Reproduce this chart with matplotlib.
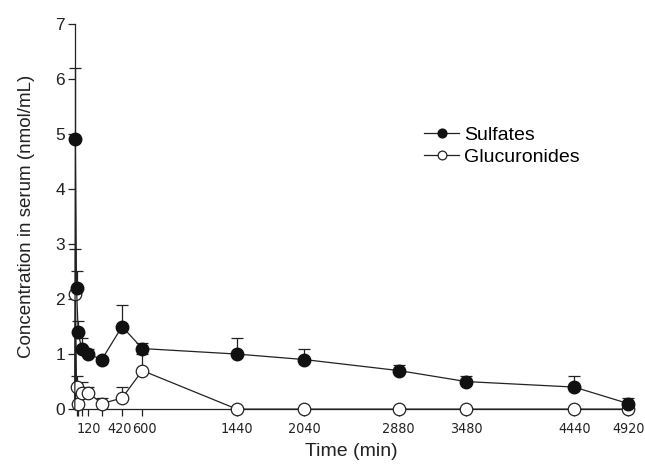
import matplotlib
matplotlib.use('Agg')
import matplotlib.pyplot as plt
import matplotlib.transforms as mtransforms
from matplotlib import font_manager
import numpy as np

plt.rcParams['font.family'] = ['Liberation Sans', 'DejaVu Sans']

# sampling times (min); 0 is the pre-dose point
time = [0, 5, 15, 30, 60, 120, 240, 420, 600, 1440, 2040, 2880, 3480, 4440, 4920]

sulfates = [0, 4.9, 2.2, 1.4, 1.1, 1.0, 0.9, 1.5, 1.1, 1.0, 0.9, 0.7, 0.5, 0.4, 0.1]
sulfates_err = [0, 1.3, 0.3, 0.2, 0.2, 0.1, 0.05, 0.4, 0.1, 0.3, 0.2, 0.1, 0.1, 0.2, 0.1]

glucuronides = [0, 2.1, 0.4, 0.1, 0.3, 0.3, 0.1, 0.2, 0.7, 0, 0, 0, 0, 0, 0]
glucuronides_err = [0, 0.8, 0.2, 0.0, 0.2, 0.1, 0.1, 0.2, 0.3, 0, 0, 0, 0, 0, 0]

xticks = [15, 30, 60, 120, 240, 420, 600, 1440, 2040, 2880, 3480, 4440, 4920]
xtick_labels = ['', '', '', '120', '', '420', '600', '1440', '2040', '2880', '3480', '4440', '4920']

# condensed face for the x tick labels if one is installed
condensed = [f for f in font_manager.fontManager.ttflist
             if f.stretch in ('condensed', 'semi-condensed', 'extra-condensed', 500, 300, 400)
             and f.style == 'normal' and f.weight in (400, 'normal', 'regular')]
if condensed:
    xfont = dict(family=condensed[0].name, stretch=condensed[0].stretch, fontsize=10.3)
else:
    xfont = dict(family='Liberation Sans', fontsize=9.5)

fig = plt.figure(figsize=(6.45, 4.67), dpi=100)
ax = fig.add_axes([0.116, 0.124, 0.858, 0.825])

# upper-only error bars
zeros = np.zeros(len(time))
ax.errorbar(time[1:], sulfates[1:], yerr=[zeros[1:], sulfates_err[1:]], fmt='none',
            ecolor='#222222', elinewidth=0.9, capsize=4.3, capthick=0.9, clip_on=False)
ax.errorbar(time[1:], glucuronides[1:], yerr=[zeros[1:], glucuronides_err[1:]], fmt='none',
            ecolor='#222222', elinewidth=0.9, capsize=4.3, capthick=0.9, clip_on=False)

ax.plot(time, glucuronides, '-o', color='#222222', mfc='white', mec='#222222', mew=0.9,
        ms=9, lw=0.9, markevery=list(range(1, len(time))), clip_on=False,
        label='Glucuronides', zorder=3)
ax.plot(time, sulfates, '-o', color='#222222', mfc='#111111', mec='#111111',
        ms=9, lw=0.9, markevery=list(range(1, len(time))), clip_on=False,
        label='Sulfates', zorder=4)

ax.set_xlim(0, 4920)
ax.set_ylim(0, 7)
ax.set_xticks(xticks)
ax.set_xticklabels(xtick_labels, **xfont)
ax.set_yticks(range(0, 8))
ax.tick_params(axis='both', direction='out', length=5, width=0.9, colors='#222222')
ax.tick_params(axis='y', labelsize=12.5, pad=2)
ax.tick_params(axis='x', pad=4)

# nudge the crowded 420 / 600 labels apart a little
for lab in ax.get_xticklabels():
    if lab.get_text() == '420':
        lab.set_transform(lab.get_transform() + mtransforms.ScaledTranslation(-2.5/100, 0, fig.dpi_scale_trans))
    elif lab.get_text() == '600':
        lab.set_transform(lab.get_transform() + mtransforms.ScaledTranslation(2.5/100, 0, fig.dpi_scale_trans))

for s in ['top', 'right']:
    ax.spines[s].set_visible(False)
for s in ['left', 'bottom']:
    ax.spines[s].set_linewidth(0.9)
    ax.spines[s].set_color('#222222')

ax.set_xlabel('Time (min)', fontsize=14, color='#222222', labelpad=5)
ax.set_ylabel('Concentration in serum (nmol/mL)', fontsize=13.5, color='#222222', labelpad=15)

handles, labels = ax.get_legend_handles_labels()
ax.legend(handles[::-1], labels[::-1], loc='upper left', bbox_to_anchor=(0.6, 0.78),
          frameon=False, fontsize=14, handlelength=1.8, handletextpad=0.25,
          labelspacing=0.25, markerscale=0.7)

fig.savefig('out.png', dpi=100)
